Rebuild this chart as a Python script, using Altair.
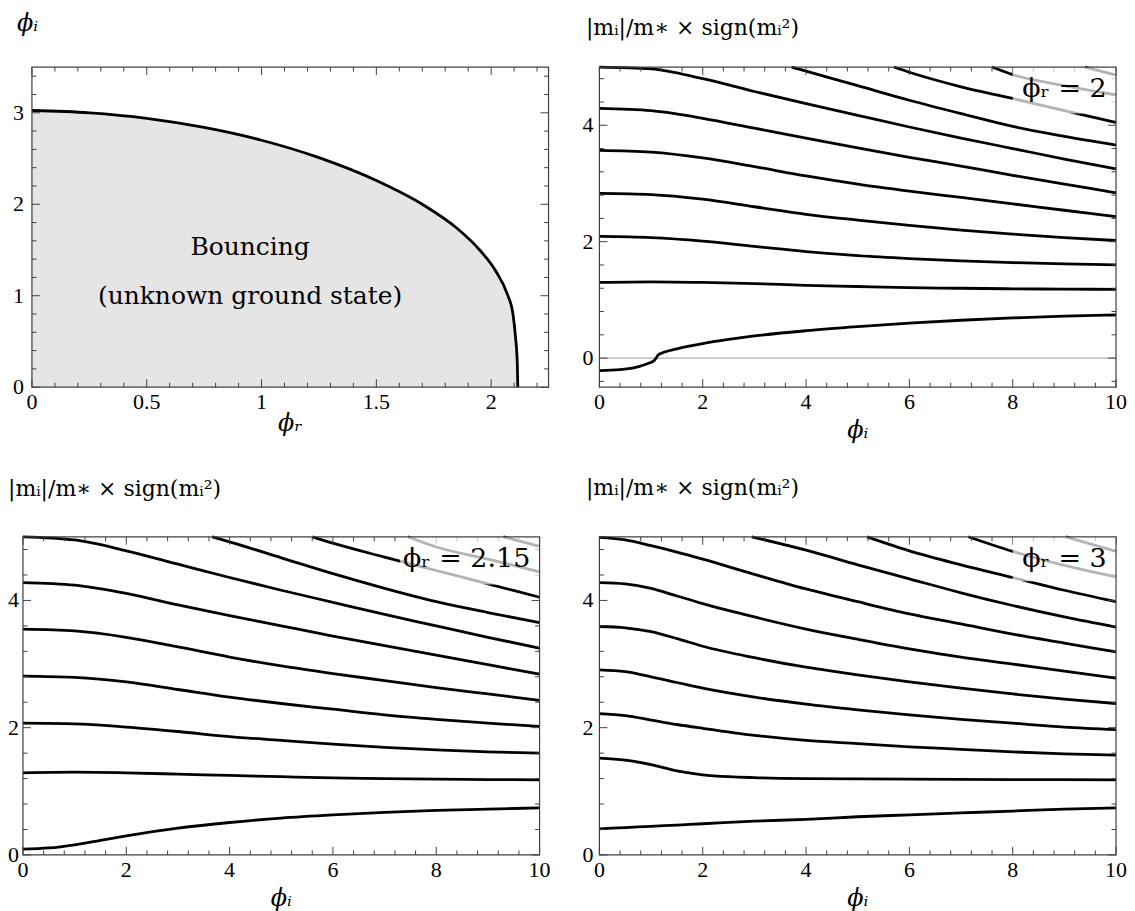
import altair as alt
import pandas as pd

SERIF = "DejaVu Serif"
TICKFONT = "Liberation Serif"
FRAME = "#404040"
LW = 2.8
VIEW_W, VIEW_H = 1119, 895

# panel placement inside the single view (pixels)
PA = dict(x0=24, x1=542, y0=58, y1=379)
PB = dict(x0=593, x1=1111, y0=58, y1=379)
PC = dict(x0=15, x1=533, y0=529, y1=848)
PD = dict(x0=593, x1=1111, y0=529, y1=848)

# ---------------- panel (a): boundary of the bouncing region ----------------
bounce_phi_r = [0.0, 0.25, 0.5, 0.75, 1.0, 1.25, 1.5, 1.7, 1.85, 1.95, 2.02, 2.07, 2.095, 2.106, 2.114, 2.116]
bounce_phi_i = [3.025, 3.0, 2.94, 2.84, 2.70, 2.51, 2.26, 2.00, 1.74, 1.50, 1.27, 1.02, 0.80, 0.55, 0.25, 0.0]
bounce_text = ["Bouncing", "(unknown ground state)"]
bounce_text_r = [0.95, 0.95]
bounce_text_i = [1.53, 1.0]

# ---------------- common phi_i grids ----------------
grid = [0, 1, 2, 3, 4, 5, 6, 7, 8, 9, 10]
grid_fine = [0, 0.5, 1, 1.5, 2, 3, 4, 5, 6, 7, 8, 9, 10]

# ---------------- panel (b): phi_r = 2 ----------------
b_x1 = [0, 0.4, 0.7, 0.95, 1.06, 1.1, 1.13, 1.25, 1.5, 2, 2.5, 3, 4, 5, 6, 7, 8, 9, 10]
b_m1 = [-0.217, -0.2, -0.16, -0.09, -0.04, 0.0, 0.05, 0.1, 0.16, 0.25, 0.32, 0.38, 0.47, 0.54, 0.60, 0.65, 0.69, 0.72, 0.74]
b_m2 = [1.30, 1.31, 1.30, 1.28, 1.25, 1.23, 1.21, 1.20, 1.19, 1.185, 1.18]
b_m3 = [2.09, 2.07, 2.01, 1.92, 1.83, 1.76, 1.71, 1.67, 1.64, 1.62, 1.60]
b_m4 = [2.83, 2.81, 2.73, 2.60, 2.47, 2.37, 2.28, 2.20, 2.13, 2.07, 2.02]
b_m5 = [3.57, 3.54, 3.44, 3.29, 3.13, 2.99, 2.87, 2.76, 2.65, 2.54, 2.43]
b_m6 = [4.29, 4.25, 4.12, 3.95, 3.78, 3.61, 3.45, 3.30, 3.14, 2.99, 2.84]
b_m7 = [5.00, 4.97, 4.80, 4.58, 4.37, 4.17, 3.97, 3.78, 3.60, 3.42, 3.25]
b_x8 = [3.72, 4, 5, 6, 7, 8, 9, 10]
b_m8 = [5.00, 4.93, 4.68, 4.43, 4.20, 3.98, 3.81, 3.66]
b_x9 = [5.7, 6, 7, 8, 9, 10]
b_m9 = [5.00, 4.91, 4.66, 4.46, 4.25, 4.05]
b_x10 = [7.6, 8, 9, 10]
b_m10 = [5.00, 4.87, 4.68, 4.52]
b_x11 = [9.4, 10]
b_m11 = [5.00, 4.86]

# ---------------- panel (c): phi_r = 2.15 ----------------
c_m1 = [0.09, 0.11, 0.16, 0.23, 0.30, 0.42, 0.51, 0.58, 0.63, 0.67, 0.70, 0.72, 0.74]
c_m2 = [1.29, 1.30, 1.29, 1.27, 1.25, 1.23, 1.21, 1.20, 1.19, 1.185, 1.18]
c_m3 = [2.07, 2.06, 2.01, 1.94, 1.86, 1.80, 1.74, 1.69, 1.65, 1.62, 1.60]
c_m4 = [2.81, 2.79, 2.72, 2.60, 2.48, 2.38, 2.29, 2.20, 2.13, 2.07, 2.02]
c_m5 = [3.55, 3.52, 3.42, 3.27, 3.11, 2.97, 2.85, 2.74, 2.63, 2.53, 2.43]
c_m6 = [4.28, 4.24, 4.11, 3.93, 3.76, 3.60, 3.44, 3.29, 3.14, 2.99, 2.84]
c_m7 = [5.00, 4.95, 4.78, 4.57, 4.36, 4.16, 3.97, 3.78, 3.60, 3.42, 3.25]
c_x8 = [3.66, 4, 5, 6, 7, 8, 9, 10]
c_m8 = [5.00, 4.92, 4.67, 4.42, 4.19, 3.98, 3.81, 3.65]
c_x9 = [5.6, 6, 7, 8, 9, 10]
c_m9 = [5.00, 4.90, 4.68, 4.47, 4.26, 4.05]
c_x10 = [7.45, 8, 9, 10]
c_m10 = [5.00, 4.84, 4.65, 4.45]
c_x11 = [9.3, 10]
c_m11 = [5.00, 4.85]

# ---------------- panel (d): phi_r = 3 ----------------
d_m1 = [0.41, 0.43, 0.45, 0.47, 0.49, 0.53, 0.56, 0.60, 0.63, 0.66, 0.69, 0.72, 0.74]
d_x2 = [0, 0.5, 1, 1.5, 2, 2.5, 3, 4, 6, 8, 10]
d_m2 = [1.52, 1.49, 1.42, 1.32, 1.26, 1.23, 1.215, 1.20, 1.19, 1.185, 1.18]
d_m3 = [2.22, 2.19, 2.12, 2.05, 1.99, 1.88, 1.80, 1.75, 1.70, 1.66, 1.62, 1.59, 1.57]
d_m4 = [2.91, 2.88, 2.80, 2.71, 2.62, 2.48, 2.37, 2.28, 2.20, 2.13, 2.07, 2.01, 1.97]
d_m5 = [3.59, 3.57, 3.51, 3.40, 3.28, 3.10, 2.95, 2.83, 2.72, 2.62, 2.53, 2.45, 2.38]
d_m6 = [4.28, 4.26, 4.19, 4.07, 3.95, 3.74, 3.55, 3.39, 3.24, 3.11, 3.00, 2.89, 2.78]
d_m7 = [4.99, 4.95, 4.86, 4.76, 4.65, 4.41, 4.18, 3.98, 3.79, 3.63, 3.47, 3.33, 3.19]
d_x8 = [2.95, 4, 5, 6, 7, 8, 9, 10]
d_m8 = [5.00, 4.79, 4.56, 4.34, 4.12, 3.92, 3.74, 3.58]
d_x9 = [5.18, 6, 7, 8, 9, 10]
d_m9 = [5.00, 4.78, 4.56, 4.36, 4.16, 3.98]
d_x10 = [7.14, 8, 9, 10]
d_m10 = [5.00, 4.77, 4.55, 4.37]
d_x11 = [9.03, 10]
d_m11 = [5.00, 4.77]

# ---------------- labels / annotation boxes ----------------
panel_labels = ["ϕᵣ = 2", "ϕᵣ = 2.15", "ϕᵣ = 3"]
label_phi = [9.82, 9.82, 9.82]
label_m = [4.62, 4.65, 4.65]
box_left = [8.0, 7.3, 8.0]
box_bottom = [4.2, 4.25, 4.3]

# ---------------- ticks and tick labels ----------------
a_x_major = [0, 0.5, 1, 1.5, 2]
a_x_labels = ["0", "0.5", "1", "1.5", "2"]
a_x_minor = [0.1, 0.2, 0.3, 0.4, 0.6, 0.7, 0.8, 0.9, 1.1, 1.2, 1.3, 1.4, 1.6, 1.7, 1.8, 1.9, 2.1, 2.2]
a_y_major = [0, 1, 2, 3]
a_y_labels = ["0", "1", "2", "3"]
a_y_minor = [0.2, 0.4, 0.6, 0.8, 1.2, 1.4, 1.6, 1.8, 2.2, 2.4, 2.6, 2.8, 3.2, 3.4]
phi_major = [0, 2, 4, 6, 8, 10]
phi_labels = ["0", "2", "4", "6", "8", "10"]
phi_minor = [0.4, 0.8, 1.2, 1.6, 2.4, 2.8, 3.2, 3.6, 4.4, 4.8, 5.2, 5.6, 6.4, 6.8, 7.2, 7.6, 8.4, 8.8, 9.2, 9.6]
m_major = [0, 2, 4]
m_labels = ["0", "2", "4"]
m_minor = [-0.4, 0.4, 0.8, 1.2, 1.6, 2.4, 2.8, 3.2, 3.6, 4.4, 4.8]

M_TITLE = "|mᵢ|/m∗ × sign(mᵢ²)"
ONE = pd.DataFrame({"k": [0]})


def scales(p, xdom, ydom):
    xs = alt.Scale(domain=xdom, range=[p["x0"], p["x1"]], nice=False, zero=False)
    ys = alt.Scale(domain=ydom, range=[p["y1"], p["y0"]], nice=False, zero=False)
    return xs, ys


def curves_df(curves):
    rows = []
    for k, (xs, ys) in enumerate(curves):
        for x, y in zip(xs, ys):
            rows.append({"curve": k, "phi": x, "m": y})
    return pd.DataFrame(rows)


def tick_marks(p, xs, ys, xmaj, xmin, ymaj, ymin):
    out = []
    for vals, L in ((xmaj, 8), (xmin, 4.5)):
        r = alt.Chart(pd.DataFrame({"t": vals})).mark_rule(color=FRAME, strokeWidth=1)
        X = alt.X("t:Q", scale=xs, axis=None)
        out.append(r.encode(x=X, y=alt.value(p["y1"]), y2=alt.value(p["y1"] - L)))
        out.append(r.encode(x=X, y=alt.value(p["y0"]), y2=alt.value(p["y0"] + L)))
    for vals, L in ((ymaj, 8), (ymin, 4.5)):
        vals = [v for v in vals if ys.domain[0] <= v <= ys.domain[1]]
        r = alt.Chart(pd.DataFrame({"t": vals})).mark_rule(color=FRAME, strokeWidth=1)
        Y = alt.Y("t:Q", scale=ys, axis=None)
        out.append(r.encode(y=Y, x=alt.value(p["x0"]), x2=alt.value(p["x0"] + L)))
        out.append(r.encode(y=Y, x=alt.value(p["x1"]), x2=alt.value(p["x1"] - L)))
    return out


def frame_mark(p):
    return alt.Chart(ONE).mark_rect(fillOpacity=0, stroke=FRAME, strokeWidth=1.2).encode(
        x=alt.value(p["x0"]), x2=alt.value(p["x1"]), y=alt.value(p["y0"]), y2=alt.value(p["y1"]))


def label_marks(p, xs, ys, xmaj, xlab, ymaj, ylab, ylab_right, xtitle, xtitle_y,
                ytitle, ytitle_x, ytitle_y, ytitle_style, ytitle_size):
    out = []
    out.append(alt.Chart(pd.DataFrame({"t": xmaj, "label": xlab})).mark_text(
        font=TICKFONT, fontSize=22, color="black", align="center", baseline="alphabetic").encode(
        x=alt.X("t:Q", scale=xs, axis=None), y=alt.value(p["y1"] + 22), text="label:N"))
    out.append(alt.Chart(pd.DataFrame({"t": ymaj, "label": ylab})).mark_text(
        font=TICKFONT, fontSize=22, color="black", align="right", baseline="middle").encode(
        y=alt.Y("t:Q", scale=ys, axis=None), x=alt.value(ylab_right), text="label:N"))
    out.append(alt.Chart(ONE).mark_text(font=SERIF, fontSize=24, fontStyle="italic", color="black",
                                        align="center", baseline="middle", text=xtitle).encode(
        x=alt.value((p["x0"] + p["x1"]) / 2), y=alt.value(xtitle_y)))
    out.append(alt.Chart(ONE).mark_text(font=SERIF, fontSize=ytitle_size, fontStyle=ytitle_style,
                                        color="black", align="left", baseline="middle", text=ytitle).encode(
        x=alt.value(ytitle_x), y=alt.value(ytitle_y)))
    return out


# ---------------- panel (a) ----------------
xs_a, ys_a = scales(PA, [0, 2.25], [0, 3.5])
df_a = pd.DataFrame({"r": bounce_phi_r, "i": bounce_phi_i})
df_at = pd.DataFrame({"r": bounce_text_r, "i": bounce_text_i, "label": bounce_text})

layers = [
    alt.Chart(df_a).mark_area(color="#e5e5e5", interpolate="monotone").encode(
        x=alt.X("r:Q", scale=xs_a, axis=None), y=alt.Y("i:Q", scale=ys_a, axis=None)),
    alt.Chart(df_a).mark_line(color="black", strokeWidth=LW, interpolate="monotone").encode(
        x=alt.X("r:Q", scale=xs_a, axis=None), y=alt.Y("i:Q", scale=ys_a, axis=None)),
    alt.Chart(df_at).mark_text(font=SERIF, fontSize=25, color="black", align="center",
                               baseline="middle").encode(
        x=alt.X("r:Q", scale=xs_a, axis=None), y=alt.Y("i:Q", scale=ys_a, axis=None), text="label:N"),
]
layers += tick_marks(PA, xs_a, ys_a, a_x_major, a_x_minor, a_y_major, a_y_minor)
layers.append(frame_mark(PA))
layers += label_marks(PA, xs_a, ys_a, a_x_major, a_x_labels, a_y_major, a_y_labels, PA["x0"] - 8,
                      "ϕᵣ", 416, "ϕᵢ", 9, 15, "italic", 24)


def line_panel(p, curves, ydom, idx, ylab_right, xtitle_y, ytitle_x, ytitle_y, zero_line=False):
    xs, ys = scales(p, [0, 10], ydom)
    out = []
    if zero_line:
        out.append(alt.Chart(pd.DataFrame({"z": [0]})).mark_rule(color="#999999", strokeWidth=1).encode(
            y=alt.Y("z:Q", scale=ys, axis=None), x=alt.value(p["x0"]), x2=alt.value(p["x1"])))
    out.append(alt.Chart(curves_df(curves)).mark_line(color="black", strokeWidth=LW,
                                                      interpolate="monotone").encode(
        x=alt.X("phi:Q", scale=xs, axis=None), y=alt.Y("m:Q", scale=ys, axis=None), detail="curve:N"))
    out += tick_marks(p, xs, ys, phi_major, phi_minor, m_major, m_minor)
    box = pd.DataFrame({"x1": [box_left[idx]], "x2": [10], "y1": [box_bottom[idx]], "y2": [ydom[1]]})
    out.append(alt.Chart(box).mark_rect(color="white", opacity=0.7).encode(
        x=alt.X("x1:Q", scale=xs, axis=None), x2="x2:Q",
        y=alt.Y("y1:Q", scale=ys, axis=None), y2="y2:Q"))
    lab = pd.DataFrame({"phi": [label_phi[idx]], "m": [label_m[idx]], "label": [panel_labels[idx]]})
    out.append(alt.Chart(lab).mark_text(font=SERIF, fontSize=27, color="black", align="right",
                                        baseline="middle").encode(
        x=alt.X("phi:Q", scale=xs, axis=None), y=alt.Y("m:Q", scale=ys, axis=None), text="label:N"))
    out.append(frame_mark(p))
    out += label_marks(p, xs, ys, phi_major, phi_labels, m_major, m_labels, ylab_right,
                       "ϕᵢ", xtitle_y, M_TITLE, ytitle_x, ytitle_y, "normal", 22)
    return out


layers += line_panel(PB, [(b_x1, b_m1), (grid, b_m2), (grid, b_m3), (grid, b_m4), (grid, b_m5),
                          (grid, b_m6), (grid, b_m7), (b_x8, b_m8), (b_x9, b_m9), (b_x10, b_m10),
                          (b_x11, b_m11)],
                     [-0.5, 5], 0, PB["x0"] - 6, 423, 579.5, 19, zero_line=True)
layers += line_panel(PC, [(grid_fine, c_m1), (grid, c_m2), (grid, c_m3), (grid, c_m4), (grid, c_m5),
                          (grid, c_m6), (grid, c_m7), (c_x8, c_m8), (c_x9, c_m9), (c_x10, c_m10),
                          (c_x11, c_m11)],
                     [0, 5], 1, PC["x0"] - 4, 892, 0, 481)
layers += line_panel(PD, [(grid_fine, d_m1), (d_x2, d_m2), (grid_fine, d_m3), (grid_fine, d_m4),
                          (grid_fine, d_m5), (grid_fine, d_m6), (grid_fine, d_m7), (d_x8, d_m8),
                          (d_x9, d_m9), (d_x10, d_m10), (d_x11, d_m11)],
                     [0, 5], 2, PD["x0"] - 6, 892, 579.5, 480)

chart = alt.layer(*layers).resolve_scale(x="independent", y="independent").properties(
    width=VIEW_W, height=VIEW_H, padding=0).configure_view(stroke="transparent")

chart.save("out.html", embed_options={"renderer": "svg", "actions": False})
